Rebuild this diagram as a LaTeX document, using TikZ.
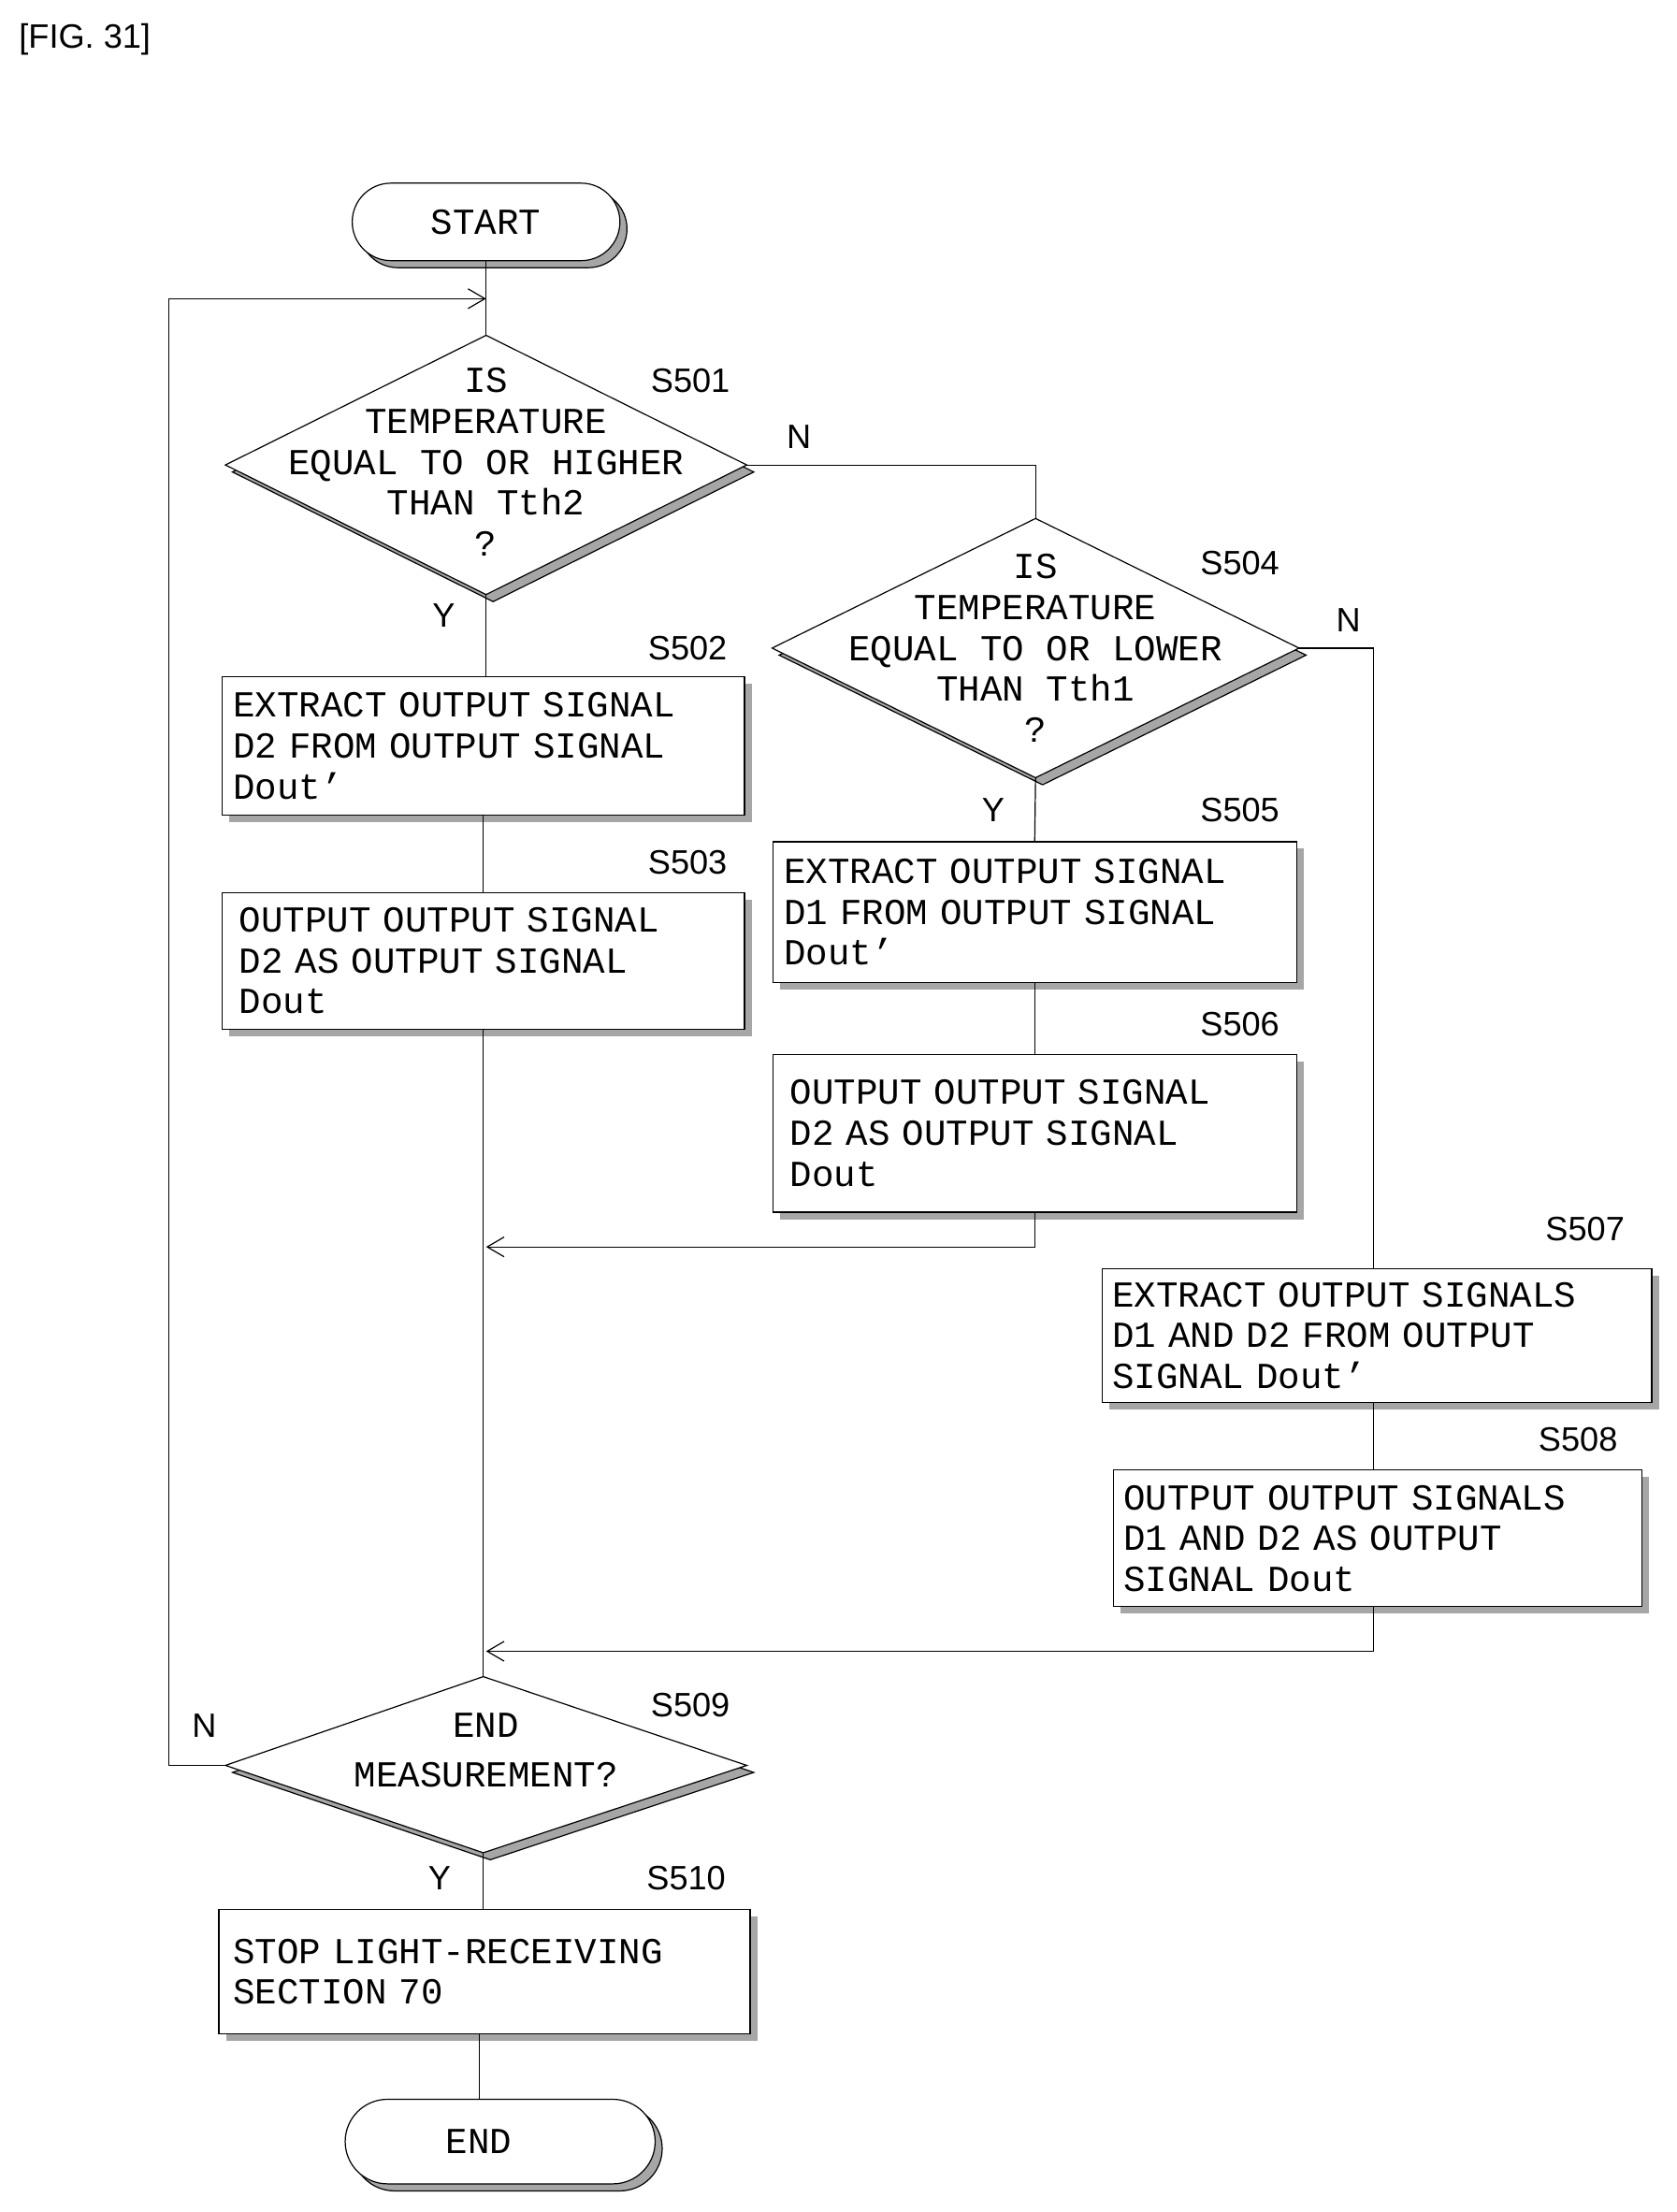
\documentclass[tikz,border=0pt]{standalone}
\usepackage{fontspec}
\setmainfont{Liberation Mono}
\newfontfamily\labfont{Liberation Sans}
\usetikzlibrary{shapes.geometric,shadows,arrows.meta}
\begin{document}
\begin{tikzpicture}[x=1pt,y=-1pt,
 txt/.style={font=\fontsize{26}{29}\selectfont},
 box/.style={draw,thick,fill=white,txt,align=left,anchor=north west,inner sep=6pt,
   drop shadow={shadow xshift=5pt,shadow yshift=-5pt,fill=gray!70,opacity=1}},
 lab/.style={font=\labfont\fontsize{24}{26}\selectfont},
 ln/.style={thick},
 arr/.style={thick,-{Straight Barb[length=12pt,width=14pt]}}]
\useasboundingbox (0,0) rectangle (1190,1570);
\node[lab,anchor=west] (fig) at (10,28) {[FIG. 31]};
% START
\draw[thick,fill=gray!70,rounded corners=27.5pt] (255,135) rectangle (445,190);
\draw[thick,fill=white,rounded corners=27.5pt] (250,130) rectangle (440,185);
\node[txt] (start) at (345,158) {START};
\coordinate (sb) at (345,185);
% S501
\draw[thick,fill=gray!70] (165,335) -- (350,243) -- (535,335) -- (350,427) -- cycle;
\draw[thick,fill=white] (160,330) -- (345,238) -- (530,330) -- (345,422) -- cycle;
\node[txt,align=center] (d1) at (345,328) {IS\\TEMPERATURE\\EQUAL TO OR HIGHER\\THAN Tth2\\?};
\coordinate (d1t) at (345,238); \coordinate (d1r) at (530,330); \coordinate (d1b) at (345,422);
\node[lab] (l501) at (490,270) {S501};
\node[lab] (n1) at (567,310) {N};
\node[lab] (y1) at (315,437) {Y};
% S504
\draw[thick,fill=gray!70] (553,465) -- (740,373) -- (927,465) -- (740,557) -- cycle;
\draw[thick,fill=white] (548,460) -- (735,368) -- (922,460) -- (735,552) -- cycle;
\node[txt,align=center] (d2) at (735,460) {IS\\TEMPERATURE\\EQUAL TO OR LOWER\\THAN Tth1\\?};
\coordinate (d2t) at (735,368); \coordinate (d2r) at (922,460); \coordinate (d2b) at (735,552);
\node[lab] (l504) at (880,400) {S504};
\node[lab] (n2) at (957,440) {N};
\node[lab] (y2) at (705,575) {Y};
% boxes
\node[box,minimum width=371pt,minimum height=98pt,text width=355pt] (b502) at (157,480) {EXTRACT OUTPUT SIGNAL\\D2 FROM OUTPUT SIGNAL\\Dout'};
\node[lab] (l502) at (488,460) {S502};
\node[box,minimum width=371pt,minimum height=97pt,text width=355pt] (b503) at (157,633) {\,OUTPUT OUTPUT SIGNAL\\\,D2 AS OUTPUT SIGNAL\\\,Dout};
\node[lab] (l503) at (488,612) {S503};
\node[box,minimum width=372pt,minimum height=100pt,text width=356pt] (b505) at (548,597) {EXTRACT OUTPUT SIGNAL\\D1 FROM OUTPUT SIGNAL\\Dout'};
\node[lab] (l505) at (880,575) {S505};
\node[box,minimum width=372pt,minimum height=112pt,text width=356pt] (b506) at (548,748) {\,OUTPUT OUTPUT SIGNAL\\\,D2 AS OUTPUT SIGNAL\\\,Dout};
\node[lab] (l506) at (880,727) {S506};
\node[box,minimum width=390pt,minimum height=95pt,text width=376pt,inner sep=5pt] (b507) at (782,900) {EXTRACT OUTPUT SIGNALS\\D1 AND D2 FROM OUTPUT\\SIGNAL Dout'};
\node[lab] (l507) at (1125,872) {S507};
\node[box,minimum width=375pt,minimum height=97pt,text width=361pt,inner sep=5pt] (b508) at (790,1043) {OUTPUT OUTPUT SIGNALS\\D1 AND D2 AS OUTPUT\\SIGNAL Dout};
\node[lab] (l508) at (1120,1022) {S508};
% S509
\draw[thick,fill=gray!70] (165,1258) -- (348,1195) -- (535,1258) -- (348,1320) -- cycle;
\draw[thick,fill=white] (160,1253) -- (343,1190) -- (530,1253) -- (343,1315) -- cycle;
\node[txt,align=center] (d3) at (345,1242) {END\\[6pt]MEASUREMENT?};
\coordinate (d3t) at (343,1190); \coordinate (d3l) at (160,1253); \coordinate (d3b) at (343,1315);
\node[lab] (l509) at (490,1210) {S509};
\node[lab] (n3) at (145,1225) {N};
\node[lab] (y3) at (312,1333) {Y};
\node[box,minimum width=373pt,minimum height=88pt,text width=357pt,inner sep=10pt] (b510) at (155,1355) {STOP LIGHT-RECEIVING\\SECTION 70};
\node[lab] (l510) at (487,1333) {S510};
% END
\draw[thick,fill=gray!70,rounded corners=30pt] (250,1495) rectangle (470,1555);
\draw[thick,fill=white,rounded corners=30pt] (245,1490) rectangle (465,1550);
\node[txt] (end) at (340,1520) {END};
\coordinate (et) at (340,1490);
% connectors
\draw[ln] (sb) -- (d1t);
\draw[ln] (d1r) -| (d2t);
\draw[ln] (d1b) -- (345,480);
\draw[ln] (b502.south -| 343,0) -- (b503.north -| 343,0);
\draw[ln] (343,730) -- (d3t);
\draw[ln] (d2b) -- (b505.north);
\draw[ln] (b505.south) -- (b506.north);
\draw[arr] (b506.south) |- (345,885);
\draw[ln] (d2r) -| (b507.north -| 975,0);
\draw[ln] (b507.south -| 975,0) -- (b508.north -| 975,0);
\draw[arr] (b508.south -| 975,0) |- (345,1172);
\draw[arr] (d3l) -| (120,212) -- (345,212);
\draw[ln] (d3b) -- (b510.north -| 343,0);
\draw[ln] (b510.south -| 340,0) -- (et);
\end{tikzpicture}
\end{document}
